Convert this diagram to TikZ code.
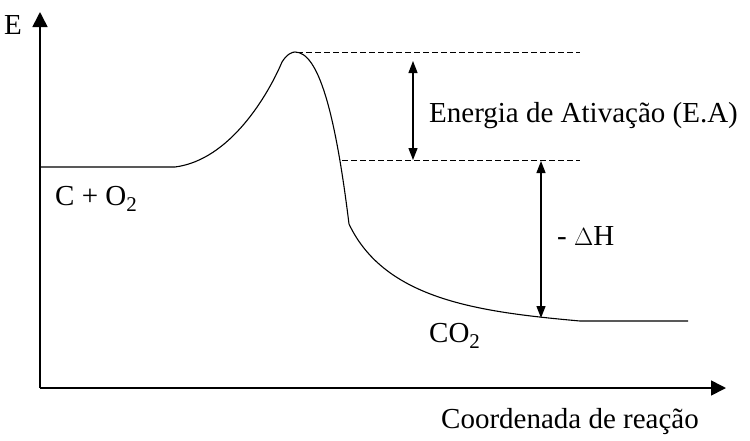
\documentclass[tikz,border=0pt]{standalone}
\usepackage{fontspec}
\setmainfont{Liberation Serif}
\usetikzlibrary{arrows.meta}
\newcommand\lowsub[1]{\raisebox{-6pt}{\fontsize{21}{21}\selectfont #1}}
\begin{document}
\begin{tikzpicture}[x=1pt,y=-1pt,
  axis/.style={line width=1.6pt,-{Triangle[width=15pt,length=15pt]}},
  curve/.style={line width=1.1pt,line join=round},
  level/.style={line width=0.9pt,dash pattern=on 6pt off 3pt},
  dim/.style={line width=1.3pt,{Triangle[width=9pt,length=12pt]}-{Triangle[width=9pt,length=12pt]}},
  lbl/.style={font=\fontsize{29}{32}\selectfont,inner sep=0pt,anchor=base west}]
\useasboundingbox (0,0) rectangle (750,440);
% axes
\coordinate (O) at (40,388);
\coordinate (Ytip) at (40,12);
\coordinate (Xtip) at (726,388);
\draw[axis] (O) -- (Ytip);
\draw[axis] (O) -- (Xtip);
\node[lbl] (E) at (4,34) {E};
\node[lbl] (xl) at (441,428) {Coordenada de reação};
% energy curve
\coordinate (r0) at (40,167);
\coordinate (r1) at (175,167);
\coordinate (peak) at (295,52);
\coordinate (kink) at (349,224);
\coordinate (p0) at (580,321);
\coordinate (p1) at (688,321);
\draw[curve] (r0) -- (r1)
  .. controls (230,160) and (268,95) .. (282,62)
  .. controls (287,54) and (292,52) .. (peak)
  .. controls (318,52) and (335,110) .. (kink)
  .. controls (385,300) and (480,312) .. (p0) -- (p1);
% levels
\coordinate (t1) at (297,52);
\coordinate (t2) at (580,52);
\coordinate (m1) at (342,160);
\coordinate (m2) at (580,160);
\draw[level] (t1) -- (t2);
\draw[level] (m1) -- (m2);
% dimension arrows
\coordinate (a1) at (413,61);
\coordinate (a2) at (413,160);
\coordinate (b1) at (541,161);
\coordinate (b2) at (541,318);
\draw[dim] (a1) -- (a2);
\draw[dim] (b1) -- (b2);
% labels
\node[lbl] (ea) at (429,122) {Energia de Ativação (E.A)};
\node[lbl] (dh) at (557,245) {- $\Delta$H};
\node[lbl] (re) at (55,205) {C + O\lowsub{2}};
\node[lbl] (pr) at (429,342) {CO\lowsub{2}};
\end{tikzpicture}
\end{document}
